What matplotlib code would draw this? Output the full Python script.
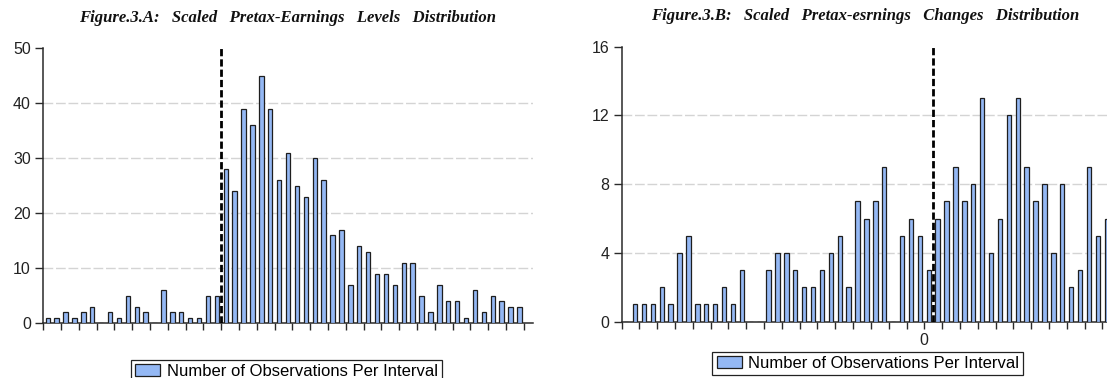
import numpy as np
import matplotlib
matplotlib.use("Agg")
import matplotlib.pyplot as plt
from matplotlib.patches import Patch

plt.rcParams["font.family"] = ["Liberation Sans", "DejaVu Sans"]

# counts per interval
levels_counts = [1, 1, 2, 1, 2, 3, 0, 2, 1, 5, 3, 2, 0, 6, 2, 2, 1, 1, 5, 5,
                 28, 24, 39, 36, 45, 39, 26, 31, 25, 23, 30, 26, 16, 17, 7, 14, 13,
                 9, 9, 7, 11, 11, 5, 2, 7, 4, 4, 1, 6, 2, 5, 4, 3, 3]
changes_counts = [0, 1, 1, 1, 2, 1, 4, 5, 1, 1, 1, 2, 1, 3, 0, 0, 3, 4, 4, 3,
                  2, 2, 3, 4, 5, 2, 7, 6, 7, 9, 0, 5, 6, 5, 3,
                  6, 7, 9, 7, 8, 13, 4, 6, 12, 13, 9, 7, 8, 4, 8, 2, 3, 9, 5, 6]
levels_zero_bin = 20
changes_zero_bin = 35
changes_zero_tick = 34

levels_yticks = [0, 10, 20, 30, 40, 50]
changes_yticks = [0, 4, 8, 12, 16]

title_a = "Figure.3.A:   Scaled   Pretax-Earnings   Levels   Distribution"
title_b = "Figure.3.B:   Scaled   Pretax-esrnings   Changes   Distribution"
legend_label = "Number of Observations Per Interval"

BAR_FC = "#94B8F4"
BAR_EC = "#1e1e1e"
GRID_C = "#d4d4d4"
TICK_FS = 11.5


def draw_hist(ax, counts, zero_bin, yticks, xlim):
    n = len(counts)
    x = np.arange(n) + 0.5
    ax.bar(x, counts, width=0.5, color=BAR_FC, edgecolor=BAR_EC,
           linewidth=0.9, zorder=3)
    for y in yticks[1:-1]:
        ax.axhline(y, color=GRID_C, lw=1.0, ls=(0, (7, 2)), zorder=1)
    ax.axvline(zero_bin, color="black", lw=2.0, ls=(0, (2.6, 1.1)), zorder=4)
    ax.set_ylim(yticks[0], yticks[-1])
    ax.set_xlim(*xlim)
    ax.set_yticks(yticks)
    ax.set_xticks(np.arange(0, xlim[1] + 0.1, 2))
    ax.set_xticklabels([])
    for s in ["top", "right"]:
        ax.spines[s].set_visible(False)
    for s in ["left", "bottom"]:
        ax.spines[s].set_color("#2a2a2a")
        ax.spines[s].set_linewidth(1.1)
    ax.tick_params(axis="x", length=5, width=1.0, color="#2a2a2a")
    ax.tick_params(axis="y", length=6, width=1.0, color="#2a2a2a",
                   labelsize=TICK_FS, labelcolor="#222222", pad=3)


fig = plt.figure(figsize=(11.07, 3.78), dpi=100)

ax1 = fig.add_axes([0.0391, 0.1455, 0.4422, 0.7267])
draw_hist(ax1, levels_counts, levels_zero_bin, levels_yticks, (0, 55))

ax2 = fig.add_axes([0.5616, 0.149, 0.4422, 0.7275])
draw_hist(ax2, changes_counts, changes_zero_bin, changes_yticks, (0, 55))
ticks2 = np.arange(0, 55.1, 2)
ax2.set_xticks(ticks2)
ax2.set_xticklabels(["0" if t == changes_zero_tick else "" for t in ticks2])
ax2.tick_params(axis="x", labelsize=TICK_FS, labelcolor="#222222", pad=3)

title_font = dict(family="Liberation Serif", style="italic", weight="bold",
                  size=12, color="#111111")
fig.text(0.2597, 1 - 18 / 378, title_a, ha="center", va="center", **title_font)
fig.text(0.7814, 1 - 16 / 378, title_b, ha="center", va="center", **title_font)

handle = [Patch(facecolor=BAR_FC, edgecolor=BAR_EC, linewidth=0.9)]
leg_kw = dict(loc="center", bbox_transform=fig.transFigure, fancybox=False,
              framealpha=1, edgecolor="#222222", fontsize=12,
              handlelength=1.5, handleheight=0.7, handletextpad=0.4,
              borderpad=0.25, borderaxespad=0)
l1 = ax1.legend(handle, [legend_label], bbox_to_anchor=(0.259, 0.017), **leg_kw)
l2 = ax2.legend(handle, [legend_label], bbox_to_anchor=(0.784, 0.038), **leg_kw)
for lg in (l1, l2):
    lg.get_frame().set_linewidth(0.9)

fig.savefig("out.png", dpi=100)
